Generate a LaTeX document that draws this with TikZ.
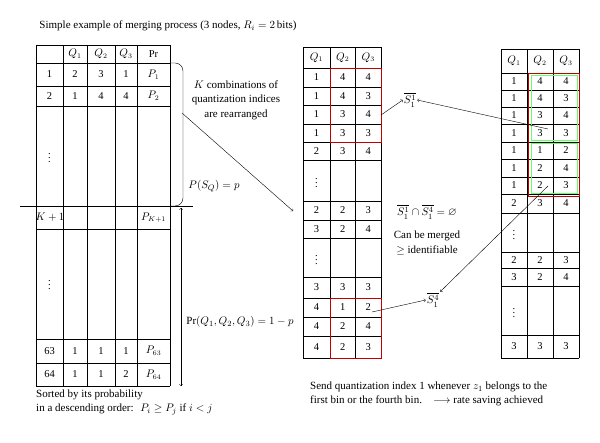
\documentclass[tikz,border=0pt]{standalone}
\usepackage{fontspec}
\setmainfont{Liberation Serif}
\usepackage{amssymb}

\tikzset{
  cell/.style={inner sep=1pt, font=\fontsize{10.5}{12}\selectfont},
  note/.style={inner sep=1pt, font=\fontsize{11}{14.5}\selectfont, align=center},
  merged/.style={draw=red!75!black, thick},
  sub/.style={draw=green!60, thick},
}

\begin{document}
\begin{tikzpicture}[x=1pt,y=-1pt]
\useasboundingbox (0,0) rectangle (600,443);

\node[note] (title) at (168,26) {Simple example of merging process (3 nodes, $R_i = 2$\,bits)};

% left table: all 64 combinations
\foreach \x in {36,63,87,115,137,170}
\draw (\x,45) -- (\x,386);
\foreach \y in {45,63,86,106,229,339,363,386}
\draw (36,\y) -- (170,\y);
\draw (20,206) -- (193,206); % edit here for the cut after K
\foreach [count=\i] \y/\a/\b/\c/\d/\e in {54//$Q_1$/$Q_2$/$Q_3$/Pr, 74.5/1/2/3/1/$P_1$,
  96/2/1/4/4/$P_2$, 351/63/1/1/1/$P_{63}$, 374.5/64/1/1/2/$P_{64}$}
{
\node[cell] (left-\i-1) at (49.5,\y) {\a};
\node[cell] (left-\i-2) at (75,\y) {\b};
\node[cell] (left-\i-3) at (101,\y) {\c};
\node[cell] (left-\i-4) at (126,\y) {\d};
\node[cell] (left-\i-5) at (153.5,\y) {\e};
}
\node[cell] (leftdots1) at (49.5,155) {$\vdots$};
\node[cell] (leftdots2) at (49.5,282) {$\vdots$};
\node[cell] (leftK) at (50,217.5) {$K+1$};
\node[cell] (leftPK) at (153.5,217.5) {$P_{K+1}$};

% bracket and arrows of the left table
\draw[rounded corners=8pt] (170,63) -- (183,63) -- (183,206) -- (170,206);
\coordinate (brace) at (182,113);
\coordinate (split) at (181,208);
\coordinate (tail) at (181,386);
\coordinate (midin) at (293,211);
\draw[->] (brace) -- (midin);
\draw[<->] (split) -- (tail);
\node[note] (kcomb) at (236,100) {$K$ combinations of\\quantization indices\\are rearranged};
\node[note] (psq) at (214,186) {$P(S_Q) = p$};
\node[note] (prq) at (240,322) {$\Pr(Q_1,Q_2,Q_3) = 1-p$};
\node[note, align=left, anchor=west] (sorted) at (35,402.5)
  {Sorted by its probability\\in a descending order:\; $P_i \geq P_j$ if $i<j$};

% middle table: the K combinations rearranged
\foreach \x in {303,330,355.5,381}
\draw (\x,47) -- (\x,358);
\foreach \y in {47,68,87,105,124,142,160,201,220,238,277,298,317,336,358}
\draw (303,\y) -- (381,\y);
\foreach [count=\i] \y/\a/\b/\c in {57.5/$Q_1$/$Q_2$/$Q_3$, 77.5/1/4/4, 96/1/4/3,
  114.5/1/3/4, 133/1/3/3, 151/2/3/4, 210.5/2/2/3, 229/3/2/4, 287.5/3/3/3,
  307.5/4/1/2, 326.5/4/2/4, 347/4/2/3}
{
\node[cell] (mid-\i-1) at (316.5,\y) {\a};
\node[cell] (mid-\i-2) at (342.75,\y) {\b};
\node[cell] (mid-\i-3) at (368.25,\y) {\c};
}
\node[cell] (middots1) at (316.5,180.5) {$\vdots$};
\node[cell] (middots2) at (316.5,257.5) {$\vdots$};
\draw[merged] (330,68) rectangle (381,142);
\draw[merged] (330,298) rectangle (381,358);

% right table: the merged order
\foreach \x in {501,527,553,579}
\draw (\x,49) -- (\x,358);
\foreach \y in {49,73,90,107,124,142,159,177,194,213,252,268,286,335,358}
\draw (501,\y) -- (579,\y);
\foreach [count=\i] \y/\a/\b/\c in {61/$Q_1$/$Q_2$/$Q_3$, 81.5/1/4/4, 98.5/1/4/3,
  115.5/1/3/4, 133/1/3/3, 150.5/1/1/2, 168/1/2/4, 185.5/1/2/3, 203.5/2/3/4,
  260/2/2/3, 277/3/2/4, 346.5/3/3/3}
{
\node[cell] (right-\i-1) at (514,\y) {\a};
\node[cell] (right-\i-2) at (540,\y) {\b};
\node[cell] (right-\i-3) at (566,\y) {\c};
}
\node[cell] (rightdots1) at (514,232.5) {$\vdots$};
\node[cell] (rightdots2) at (514,310.5) {$\vdots$};
\draw[merged] (528,73) rectangle (579,196);
\draw[sub] (531,75.5) rectangle (577,140);
\draw[sub] (531,143) rectangle (577,193);

% sets and their arrows
\node[note] (s11) at (410,100) {$\overline{S_1^1}$};
\node[note] (s14) at (433,300) {$\overline{S_1^4}$};
\node[note] (cap) at (427,212) {$\overline{S_1^1}\cap\overline{S_1^4} = \varnothing$};
\node[note] (merge) at (427,243) {Can be merged\\$\geq$ identifiable};
\coordinate (m1) at (381,115);
\coordinate (m4) at (372,312);
\coordinate (r1) at (548,129);
\coordinate (r4) at (548,186);
\draw[->] (m1) -- (s11.west);
\draw[->] (r1) -- (s11.east);
\draw[->] (m4) -- (s14.west);
\draw[->] (r4) -- (s14.north east);

\node[note, align=left, anchor=west] (send) at (309,394)
  {Send quantization index 1 whenever $z_1$ belongs to the\\first bin or the fourth bin.\quad $\longrightarrow$ rate saving achieved};
\end{tikzpicture}
\end{document}
